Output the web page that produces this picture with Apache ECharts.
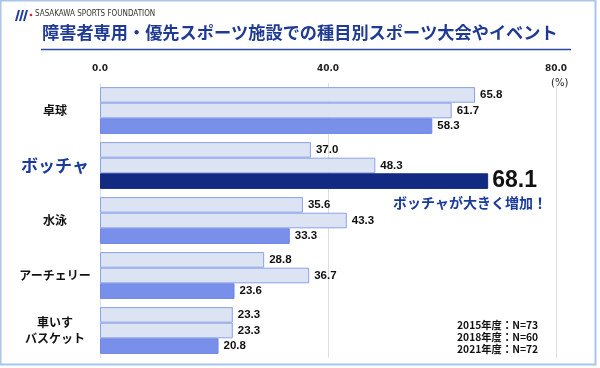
<!DOCTYPE html>
<html><head><meta charset="utf-8">
<script src="https://cdn.jsdelivr.net/npm/echarts@6/dist/echarts.min.js"></script>
<style>html,body{margin:0;padding:0;background:#fff}#c{width:600px;height:368px}</style>
</head><body><div id="c"></div>
<script>
const categories = ['卓球', 'ボッチャ', '水泳', 'アーチェリー', '車いす\nバスケット'];
const values2015 = [65.8, 37.0, 35.6, 28.8, 23.3];
const values2018 = [61.7, 48.3, 43.3, 36.7, 23.3];
const values2021 = [58.3, 68.1, 33.3, 23.6, 20.8];
const xTicks = [0, 40, 80];
const legendLines = ['2015年度：N=73', '2018年度：N=60', '2021年度：N=72'];
const titleText = '障害者専用・優先スポーツ施設での種目別スポーツ大会やイベント';
const noteText = 'ボッチャが大きく増加！';
const FONT = '"Noto Sans CJK JP", sans-serif';
const NUMFONT = '"Liberation Sans", Arial, sans-serif';

const chart = echarts.init(document.getElementById('c'), null, {renderer: 'canvas'});
const lightStyle = {color: '#dce3f3', borderColor: '#8aa2e8', borderWidth: 1};
const valLabel = {show: true, position: 'right', distance: 5, color: '#111', fontWeight: 'bold', fontSize: 11.5, fontFamily: NUMFONT, formatter: p => p.value.toFixed(1)};

const data2021 = values2021.map((v, i) => i === 1 ? {
  value: v,
  itemStyle: {color: '#132a83', borderColor: '#132a83'},
  label: {fontSize: 23, distance: 4, color: '#111', fontFamily: NUMFONT}
} : v);

chart.setOption({
  animation: false,
  grid: {left: 100, right: 44, top: 83, bottom: 10, containLabel: false},
  xAxis: {
    type: 'value', position: 'top', min: 0, max: 80, interval: 40,
    axisLine: {show: false}, axisTick: {show: false},
    splitLine: {show: true, lineStyle: {color: '#dedede', width: 1}},
    axisLabel: {margin: 10, color: '#222', fontWeight: 'bold', fontSize: 9, fontFamily: 'Verdana, "DejaVu Sans", sans-serif',
      formatter: v => xTicks.includes(v) ? v.toFixed(1) : ''}
  },
  yAxis: {
    type: 'category', data: categories, inverse: true,
    axisLine: {show: false}, axisTick: {show: false},
    axisLabel: {
      margin: 0, width: 100, align: 'center', padding: [0, 90, 0, 0],
      color: '#111', fontWeight: 'bold', fontSize: 12, fontFamily: FONT, lineHeight: 16,
      formatter: (v, i) => i === 1 ? '{b|' + v + '}' : v,
      rich: {b: {color: '#1a3a9c', fontSize: 17, fontWeight: 'bold', fontFamily: FONT}}
    }
  },
  series: [
    {name: '2015', type: 'bar', data: values2015, barWidth: 15.6, barGap: '0%', barCategoryGap: '14%', itemStyle: lightStyle, label: valLabel},
    {name: '2018', type: 'bar', data: values2018, barWidth: 15.6, barGap: '0%', itemStyle: lightStyle, label: valLabel},
    {name: '2021', type: 'bar', data: data2021, barWidth: 15.6, barGap: '0%', itemStyle: {color: '#7890ea', borderColor: '#6f87e6', borderWidth: 1}, label: valLabel}
  ],
  graphic: [
    {type: 'rect', shape: {x: 0.5, y: 0.5, width: 595, height: 364}, style: {fill: 'none', stroke: '#a9c6e8', lineWidth: 2}, z: 100},
    // logo
    {type: 'polygon', shape: {points: [[15,21],[18,10],[20,10],[17,21]]}, style: {fill: '#1f3fa0'}},
    {type: 'polygon', shape: {points: [[19,21],[22,10],[24,10],[21,21]]}, style: {fill: '#1f3fa0'}},
    {type: 'polygon', shape: {points: [[23,21],[26,10],[28,10],[25,21]]}, style: {fill: '#1f3fa0'}},
    {type: 'circle', shape: {cx: 31, cy: 15, r: 1.3}, style: {fill: '#e0202a'}},
    {type: 'text', left: 35, top: 10, style: {text: 'SASAKAWA SPORTS FOUNDATION', fill: '#333', fontSize: 8, fontFamily: '"DejaVu Sans Condensed", "DejaVu Sans", sans-serif'}},
    {type: 'text', left: 42, top: 24, style: {text: titleText, fill: '#1f3a93', fontSize: 17.2, fontWeight: 'bold', fontFamily: FONT}},
    {type: 'line', shape: {x1: 41, y1: 49.5, x2: 571, y2: 49.5}, style: {stroke: '#2a4aa5', lineWidth: 1.5}},
    {type: 'text', left: 551, top: 78, style: {text: '(%)', fill: '#222', fontSize: 10, fontFamily: 'Verdana, "DejaVu Sans", sans-serif'}},
    {type: 'text', left: 393, top: 196, style: {text: noteText, fill: '#1a3a9c', fontSize: 14, fontWeight: 'bold', fontFamily: FONT}},
    {type: 'text', left: 457, top: 319, style: {text: legendLines.join('\n'), fill: '#111', fontSize: 10.3, lineHeight: 12, fontWeight: 'bold', fontFamily: FONT}}
  ]
});
</script></body></html>
